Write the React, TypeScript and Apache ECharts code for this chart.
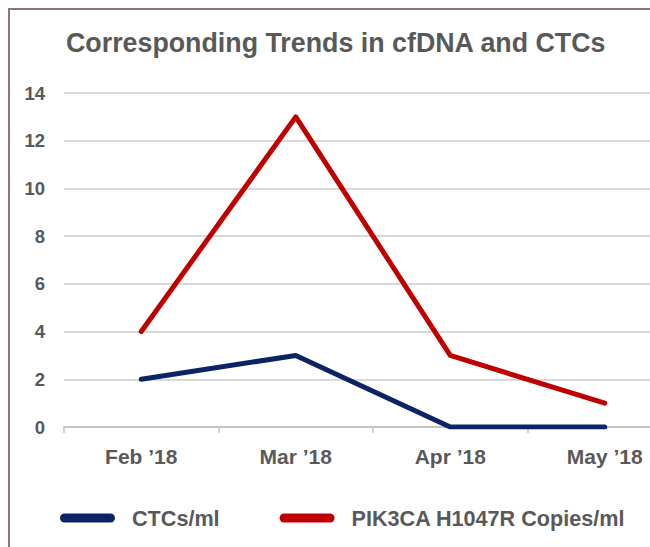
import React, { useEffect, useRef } from "react";
import * as echarts from "echarts";

const categories = ["Feb \u201918", "Mar \u201918", "Apr \u201918", "May \u201918"];
const ctcs = [2, 3, 0, 0];
const pik3ca = [4, 13, 3, 1];
const seriesNames = ["CTCs/ml", "PIK3CA H1047R Copies/ml"];
const titleText = "Corresponding Trends in cfDNA and CTCs";

const FONT = "'Liberation Sans', Arial, Helvetica, sans-serif";
const TEXT = "#595959";

export default function App() {
  const ref = useRef<HTMLDivElement>(null);
  useEffect(() => {
    if (!ref.current) return;
    const chart = echarts.init(ref.current, null, { renderer: "svg" });
    const stadium = "path://M4.5,0 L50.5,0 A4.5,4.5 0 0 1 50.5,9 L4.5,9 A4.5,4.5 0 0 1 4.5,0 Z";
    chart.setOption({
      animation: false,
      backgroundColor: "#ffffff",
      title: {
        text: titleText,
        left: 61,
        top: 24,
        textStyle: { fontFamily: FONT, fontSize: 26.8, fontWeight: "bold", color: TEXT },
      },
      grid: { left: 64, right: -32, top: 93, bottom: 120, containLabel: false, outerBoundsMode: "none" },
      legend: {
        left: 55,
        top: 502,
        itemWidth: 55,
        itemHeight: 9,
        itemGap: 60,
        icon: stadium,
        data: seriesNames,
        textStyle: { fontFamily: FONT, fontSize: 21.6, fontWeight: "bold", color: TEXT, padding: [0, 0, 0, 12] },
      },
      xAxis: {
        type: "category",
        data: categories,
        boundaryGap: true,
        axisLine: { lineStyle: { color: "#c4c4c4", width: 2 } },
        axisTick: { show: true, length: 6, lineStyle: { color: "#c4c4c4", width: 1.5 } },
        axisLabel: { fontFamily: FONT, fontSize: 21, fontWeight: "bold", color: TEXT, margin: 19 },
      },
      yAxis: {
        type: "value",
        min: 0,
        max: 14,
        interval: 2,
        axisLine: { show: false },
        axisTick: { show: false },
        axisLabel: { fontFamily: FONT, fontSize: 18.5, fontWeight: "bold", color: TEXT, margin: 19 },
        splitLine: { lineStyle: { color: "#cccccc", width: 1.5 } },
      },
      series: [
        {
          name: seriesNames[0],
          type: "line",
          data: ctcs,
          symbol: "none",
          color: "#0b2466",
          lineStyle: { width: 5, color: "#0b2466", cap: "round", join: "round" },
        },
        {
          name: seriesNames[1],
          type: "line",
          data: pik3ca,
          symbol: "none",
          color: "#c00000",
          lineStyle: { width: 5, color: "#c00000", cap: "round", join: "round" },
        },
      ],
      graphic: [
        {
          type: "rect",
          shape: { x: 9, y: 9, width: 700, height: 600 },
          style: { fill: "none", stroke: "#8f7272", lineWidth: 2 },
          z: 100,
        },
      ],
    });
    return () => chart.dispose();
  }, []);
  return (
    <div
      ref={ref}
      style={{ position: "fixed", left: 0, top: 0, width: 650, height: 547 }}
    />
  );
}
